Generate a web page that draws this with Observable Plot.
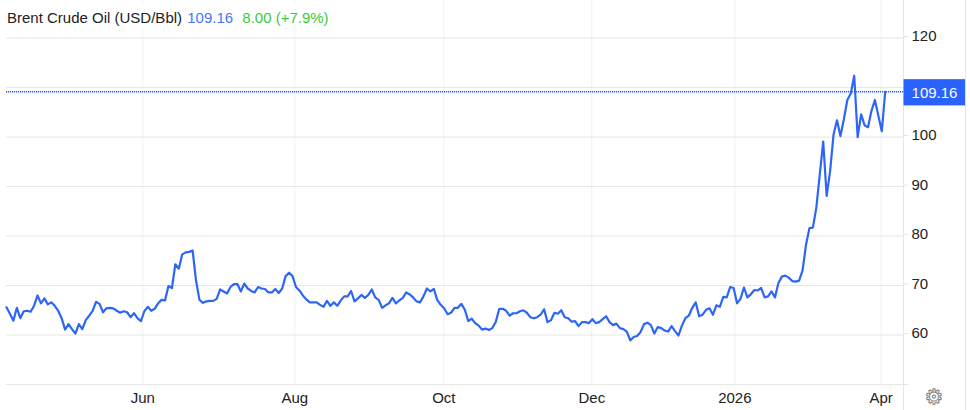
<!DOCTYPE html>
<html>
<head>
<meta charset="utf-8">
<script src="https://cdn.jsdelivr.net/npm/d3@7"></script>
<script src="https://cdn.jsdelivr.net/npm/@observablehq/plot@0.6"></script>
<style>
  html, body { margin: 0; padding: 0; background: #fff; width: 970px; height: 410px; overflow: hidden; }
  #chart { position: relative; width: 970px; height: 410px; font-family: "Liberation Sans", Arial, sans-serif; }
  #chart svg { display: block; position: absolute; left: 0; top: 0; }
  #header { position: absolute; left: 0; top: 3px; width: 336px; height: 27px; background: #fff; padding-left: 7px; padding-top: 2px; box-sizing: border-box;
            font-size: 15px; line-height: 25px; color: #222; white-space: nowrap; }
  #header .last { color: #4a74f6; margin-left: 1px; }
  #header .chg { color: #3ccb3c; margin-left: 5px; }
  #gear { position: absolute; left: 923px; top: 385px; width: 22px; text-align: center; font: 21px/24px "DejaVu Sans", sans-serif; color: transparent; -webkit-text-stroke: 0.9px #777; }
</style>
</head>
<body>
<div id="chart">
  <div id="header"><span>Brent Crude Oil (USD/Bbl)</span> <span class="last">109.16</span> <span class="chg">8.00 (+7.9%)</span></div>
  <div id="gear">⚙</div>
</div>
<script>
const prices = [
65.6,64.3,62.9,65.5,63.4,64.8,64.9,64.7,65.9,68.0,66.4,67.4,66.2,66.6,65.9,64.9,63.4,61.1,62.2,61.2,
60.3,62.2,61.2,63.0,63.9,64.9,66.7,66.3,64.6,65.4,65.5,65.4,64.9,64.5,64.8,64.6,63.6,64.4,63.4,62.8,
64.8,65.7,64.9,65.3,66.4,67.1,67.0,69.9,69.5,74.3,73.4,76.3,76.7,76.8,77.1,71.0,67.1,66.5,66.8,66.9,
66.9,67.3,69.2,68.8,68.4,69.7,70.3,70.3,68.8,70.4,69.4,68.9,68.6,69.7,69.4,69.3,68.6,68.6,69.3,68.5,
69.4,71.9,72.6,71.9,69.7,69.0,68.0,67.2,66.6,66.6,66.6,66.1,
65.7,66.9,65.9,66.6,65.9,67.0,67.8,67.8,68.9,66.8,67.4,68.1,67.5,68.1,69.2,67.6,67.1,65.5,66.0,66.4,
67.5,66.4,67.0,67.5,68.6,68.2,67.6,66.8,66.6,67.8,69.4,68.8,69.3,67.1,66.1,65.4,64.2,64.5,65.5,65.5,
66.3,65.1,62.8,63.3,62.4,61.9,61.1,61.3,61.0,61.4,62.7,65.3,65.3,64.9,63.9,64.4,64.4,64.8,65.0,64.5,
63.6,63.4,63.6,64.1,65.2,62.6,63.0,64.5,64.3,65.0,63.6,63.4,62.7,62.8,61.8,62.6,62.6,62.4,63.2,62.4,
62.6,63.2,63.8,62.6,62.0,62.3,61.4,61.2,60.7,58.9,59.6,59.8,60.6,
62.2,62.5,62.0,60.3,61.6,61.4,60.9,60.7,61.8,60.8,59.9,61.9,63.4,63.9,65.5,66.6,63.8,64.1,65.1,65.4,
64.1,66.0,65.7,67.7,67.6,69.7,69.5,66.4,67.3,69.6,67.6,68.2,69.1,69.0,69.5,67.6,67.8,68.8,67.6,70.5,
71.8,72.0,71.6,70.9,70.8,71.0,73.0,78.2,81.6,81.7,85.7,92.4,99.1,88.1,93.1,100.5,103.4,100.2,103.6,107.5,
108.8,112.4,100.0,104.6,102.4,102.0,105.3,107.5,104.3,101.2,109.16
];
const gridValues = [50, 60, 70, 80, 90, 100, 110, 120];
const yLabelValues = [60, 70, 80, 90, 100, 120];
const tickSessions = [39.55, 83.66, 126.9, 169.85, 211.35, 253.8];
const tickLabels = ["Jun", "Aug", "Oct", "Dec", "2026", "Apr"];
const lastPrice = 109.16;
const axisSession = 260.3, tagEndSession = 278.3;
const tagTop = 111.6, tagBottom = 106.3, yMax = 127.6, yFloor = 44.7;

const lineColor = "#2d66f6", tagColor = "#2962ff", dotColor = "#1f5dff", hGrid = "#e6e6e6", vGrid = "#edf0f4", textColor = "#222";

const plot = Plot.plot({
  width: 970, height: 410,
  marginLeft: 6, marginRight: 67, marginTop: 0, marginBottom: 26,
  style: { fontFamily: '"Liberation Sans", Arial, sans-serif', fontSize: "15px", background: "#fff", overflow: "visible" },
  x: { domain: [0, axisSession], label: null },
  y: { domain: [50, yMax], label: null },
  marks: [
    Plot.ruleX(tickSessions, { stroke: vGrid, strokeWidth: 1 }),
    Plot.ruleY(gridValues, { stroke: hGrid, strokeWidth: 1 }),
    Plot.ruleX([axisSession, tagEndSession], { y1: yMax, y2: yFloor, stroke: hGrid, strokeWidth: 1 }),
    Plot.axisY({ anchor: "right", ticks: yLabelValues, tickSize: 4, tickPadding: 4, stroke: hGrid, color: textColor, fontSize: 15, dy: -1.5, label: null }),
    Plot.axisY({ anchor: "right", ticks: [50], tickFormat: () => "", tickSize: 4, stroke: hGrid, label: null }),
    Plot.axisX({ ticks: tickSessions, tickFormat: s => tickLabels[tickSessions.indexOf(s)], tickSize: 0, tickPadding: 8, color: textColor, fontSize: 15, label: null }),
    Plot.ruleY([lastPrice], { stroke: dotColor, strokeWidth: 1.3, strokeDasharray: "1.2,0.8" }),
    Plot.rect([lastPrice], { x1: axisSession + 0.15, x2: tagEndSession, y1: tagBottom, y2: tagTop, fill: tagColor }),
    Plot.text([lastPrice], { x: (axisSession + tagEndSession) / 2, y: (tagTop + tagBottom) / 2, text: d => d.toFixed(2), fill: "#fff", fontSize: 15, textAnchor: "middle", lineAnchor: "middle" }),
    Plot.line(prices, { x: (d, i) => i, y: d => d, stroke: lineColor, strokeWidth: 2.2, strokeLinejoin: "round" })
  ]
});
const root = document.getElementById("chart");
root.insertBefore(plot, root.firstChild);
</script>
</body>
</html>
